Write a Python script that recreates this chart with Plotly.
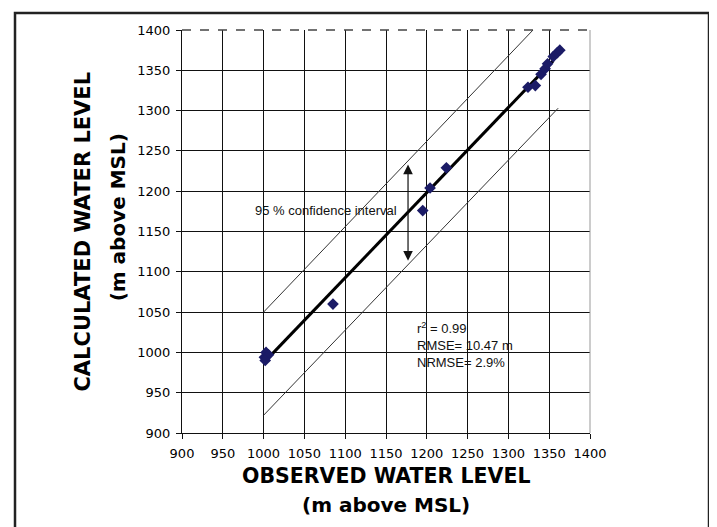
import plotly.graph_objects as go

# Data
observed = [1001, 1003, 1006, 1002, 1085, 1195, 1204, 1224, 1324, 1333, 1340, 1345, 1348, 1355, 1360, 1363]
calculated = [994, 1000, 997, 990, 1060, 1176, 1204, 1229, 1329, 1331, 1345, 1352, 1358, 1367, 1372, 1375]

fit_x = [1000, 1355]
fit_y = [987, 1362]
upper_x = [1000, 1333]
upper_y = [1050, 1403]
lower_x = [1000, 1361]
lower_y = [922, 1303]

tick_vals = [900, 950, 1000, 1050, 1100, 1150, 1200, 1250, 1300, 1350, 1400]
tick_text = [str(v) for v in tick_vals]

arrow_x = 1177
arrow_top = 1233
arrow_bottom = 1112

fig = go.Figure()

fig.add_trace(go.Scatter(x=upper_x, y=upper_y, mode="lines",
                         line=dict(color="#333333", width=1), cliponaxis=False,
                         hoverinfo="skip"))
fig.add_trace(go.Scatter(x=lower_x, y=lower_y, mode="lines",
                         line=dict(color="#333333", width=1), hoverinfo="skip"))
fig.add_trace(go.Scatter(x=fit_x, y=fit_y, mode="lines",
                         line=dict(color="black", width=3), hoverinfo="skip"))
fig.add_trace(go.Scatter(x=observed, y=calculated, mode="markers",
                         marker=dict(symbol="diamond", size=9, color="#1b1b66")))

axis_common = dict(
    range=[900, 1400], tickvals=tick_vals, ticktext=tick_text,
    showgrid=True, gridcolor="#111111", gridwidth=1,
    showline=True, linecolor="#111111", linewidth=1.2,
    ticks="outside", ticklen=5, tickcolor="#111111",
    tickfont=dict(family="DejaVu Sans", size=13, color="black"),
    zeroline=False, fixedrange=True,
)

fig.update_xaxes(**axis_common, ticklabelstandoff=3)
fig.update_yaxes(**axis_common, ticklabelstandoff=3)

shapes = [
    # outer frame
    dict(type="rect", xref="paper", yref="paper", x0=-0.4093, x1=1.2917, y0=-0.25, y1=1.0422,
         line=dict(color="#222222", width=2.5)),
    # top border of plot area
    dict(type="line", xref="paper", yref="paper", x0=0, x1=1, y0=1, y1=1,
         line=dict(color="#444444", width=1.5, dash="dash")),
    # right border of plot area
    dict(type="line", xref="paper", yref="paper", x0=1, x1=1, y0=0, y1=1,
         line=dict(color="#999999", width=1)),
]

annotations = [
    dict(x=arrow_x, y=arrow_top, ax=arrow_x, ay=arrow_bottom, xref="x", yref="y",
         axref="x", ayref="y", showarrow=True, arrowhead=2, startarrowhead=2,
         arrowside="end+start", arrowsize=1.6, startarrowsize=1.6, arrowwidth=1.2,
         arrowcolor="#111111", text=""),
    dict(x=987, y=1176, xref="x", yref="y", xanchor="left", yanchor="middle",
         text="95 % confidence interval", showarrow=False,
         font=dict(family="Liberation Sans", size=13, color="#111111")),
    dict(x=1185, y=1009, xref="x", yref="y", xanchor="left", yanchor="middle", align="left",
         text="r<sup>2</sup> = 0.99<br>RMSE= 10.47 m<br>NRMSE= 2.9%", showarrow=False,
         font=dict(family="Liberation Sans", size=13, color="#111111")),
    # x axis title
    dict(x=0.5, y=-0.107, xref="paper", yref="paper", xanchor="center", yanchor="middle",
         text="<b>OBSERVED WATER LEVEL</b>", showarrow=False,
         font=dict(family="DejaVu Sans", size=20.5, color="black")),
    dict(x=0.5, y=-0.178, xref="paper", yref="paper", xanchor="center", yanchor="middle",
         text="<b>(m above MSL)</b>", showarrow=False,
         font=dict(family="DejaVu Sans", size=20, color="black")),
    # y axis title
    dict(x=-0.245, y=0.5, xref="paper", yref="paper", xanchor="center", yanchor="middle",
         text="<b>CALCULATED WATER LEVEL</b>", textangle=-90, showarrow=False,
         font=dict(family="DejaVu Sans", size=21, color="black")),
    dict(x=-0.157, y=0.535, xref="paper", yref="paper", xanchor="center", yanchor="middle",
         text="<b>(m above MSL)</b>", textangle=-90, showarrow=False,
         font=dict(family="DejaVu Sans", size=20, color="black")),
]

fig.update_layout(
    width=709, height=519,
    margin=dict(l=174, r=127, t=22, b=94),
    paper_bgcolor="white", plot_bgcolor="white",
    showlegend=False,
    shapes=shapes, annotations=annotations,
)

fig.write_html("out.html")
